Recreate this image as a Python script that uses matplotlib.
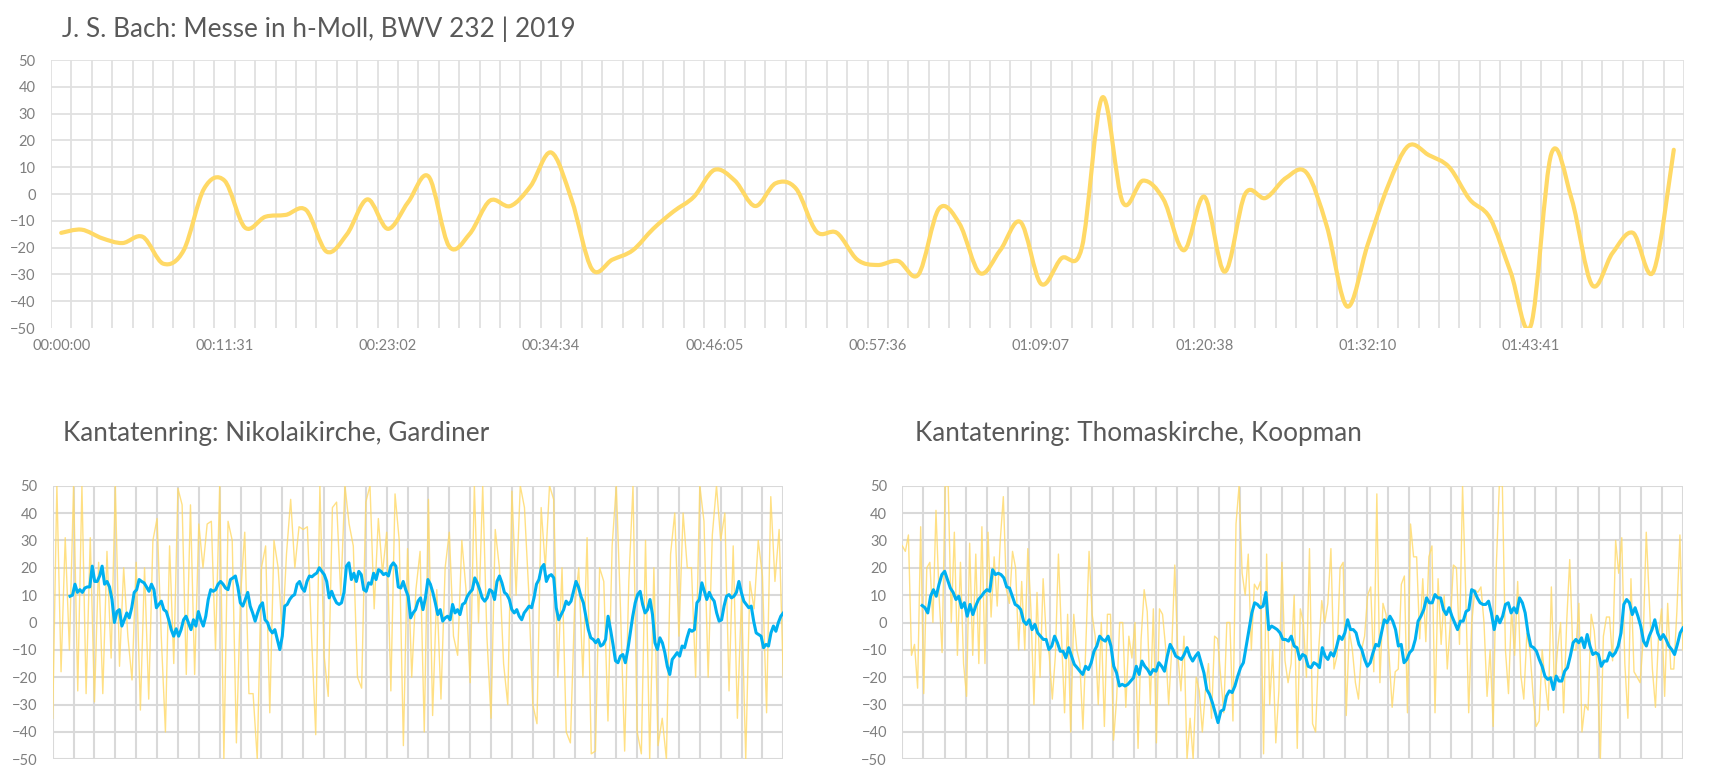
import numpy as np
import matplotlib
matplotlib.use('Agg')
import matplotlib.pyplot as plt
from matplotlib.path import Path
from matplotlib.patches import PathPatch

plt.rcParams['font.family'] = ['Lato', 'DejaVu Sans']

# ---------------- data ----------------
title_main = "J. S. Bach: Messe in h-Moll, BWV 232 | 2019"
title_left = "Kantatenring: Nikolaikirche, Gardiner"
title_right = "Kantatenring: Thomaskirche, Koopman"

mass_values = [-14.5, -13.3, -16.5, -18.3, -16, -26, -21, 2, 5, -12.5,
               -8.5, -7.8, -6, -21.5, -15, -2, -13, -3, 6.5, -19.5,
               -15, -2.5, -4.5, 3, 15.5, -2, -28, -24.5, -21, -13,
               -6.5, -1, 9, 5, -4.5, 4, 2, -14, -14.5, -24.5,
               -26.5, -25, -30, -5.5, -11, -29.5, -21, -10.5, -33.5, -24,
               -20, 36, -3, 5, -2, -21, -1, -29, 0, -1.5,
               6, 8, -12, -42, -19, 3, 18, 14.5, 10, -2,
               -9, -29, -49, 15, -2, -34, -22, -14.5, -29, 16.5]
mass_tick_every = 8
mass_tick_labels = ['00:00:00', '00:11:31', '00:23:02', '00:34:34', '00:46:05',
                    '00:57:36', '01:09:07', '01:20:38', '01:32:10', '01:43:41']

y_ticks = [-50, -40, -30, -20, -10, 0, 10, 20, 30, 40, 50]

nik_grid_cells = 35
nik_ma_start = 0.83
nik_raw = [-35, 50, -18, 31, -10, 50, -25, 50, -26, 31, -29, 22, -26, 26, -13, 50, -16, 20, -5, -21,
           22, -32, 20, -28, 30, 38, -5, -40, 28, -15, 49, 43, -19, 43, -19, 36, 20, 36, 37, -10,
           50, -50, 37, 30, -44, 10, 33, -26, -26, -50, 20, 28, -33, 30, 20, -5, 25, 45, 20, 35,
           34, 35, -5, -41, 50, -12, -27, 42, 44, 10, 50, 36, 28, -20, -24, 44, 50, 5, 38, 18,
           33, -25, 47, 30, -45, 27, -20, 12, 26, -40, 45, -34, 12, -28, 20, 33, -5, -12, 30, 12,
           -22, 50, 0, 50, -5, -35, 34, 20, -15, -30, 48, 10, 50, 42, 12, -30, -37, 42, 20, 50,
           45, -20, 20, -40, -44, 5, 20, -20, 31, -48, -47, 20, 15, -36, 28, 50, 5, -47, 15, 50,
           -40, -48, 30, -50, 20, -45, -35, -50, 25, 40, -5, 40, 20, 20, -20, 50, 37, -20, 32, 50,
           30, 40, -25, 28, -35, 10, -50, 15, 5, 30, 17, -33, 46, 15, 34, -20]
nik_avg = [9.6, 10, 14, 11, 12, 11, 12.6, 13, 13, 20.6, 15, 15, 17, 20.6, 14, 15, 13, 8.4, 0, 4,
           4.7, -1.3, 1, 3.5, 1.7, 5.4, 11, 12, 15.7, 15, 14.5, 13, 11.4, 14, 12, 5.4, 6.6, 7.8, 4.7, 4,
           1, -2.6, -5, -2.3, -5, -2.6, 1, 2.3, -0.1, -2.6, 1, -1.3, 4, 1, -1.3, 2.3, 8.4, 12, 11.4, 12,
           14, 15, 14, 12.6, 12, 15.7, 16.3, 17, 13, 7.2, 6, 8.4, 11, 6, 3.5, 0.5, 3.5, 6, 7.2, 1,
           0, -2.6, -3.8, -2.6, -6.2, -9.9, -5, 6, 6.6, 8.4, 9.6, 10.2, 14, 15, 12.6, 11.4, 15, 17, 16.7, 17.5,
           18.1, 20, 18.7, 17.5, 15, 9, 11.4, 9, 7.2, 6.6, 7.2, 11, 20.6, 21.8, 15.7, 18, 15, 18.7, 17.5, 12,
           11.4, 14.5, 14, 18, 15.7, 19.3, 18.7, 17.5, 18, 17, 20.6, 21.8, 20.6, 13, 12.6, 15, 12, 9.6, 1.7, 3.5,
           4.7, 7.8, 9, 4.7, 9, 15.7, 14, 11, 7.2, 2.9, 4.7, 0.5, 1.7, 2.3, 1, 6.6, 3.5, 4.7, 2.9, 6.6,
           7.2, 9.6, 11, 12, 16.3, 14.5, 12, 9, 7.8, 9, 12, 11.4, 8.4, 15, 17, 14.5, 11, 10.2, 8.4, 4.7,
           3.5, 4.7, 2.3, 1, 3.5, 4.7, 6, 5.4, 9, 14, 15.7, 20, 21.2, 15, 17, 17.5, 16.3, 5.4, 1, 2.9,
           4.7, 7.8, 6.6, 7.8, 11.4, 15, 13, 9.6, 7.2, 2.3, -2.6, -5.6, -6.2, -7.4, -6.2, -8.6, -8, -6.2, 2.3, -2.6,
           -8, -14, -14.7, -12.3, -11.7, -14.7, -9.9, -3.8, 2.3, 7.2, 10.2, 11.4, 6.6, 3.5, 4.7, 8.4, 2.9, -7.4, -9.9, -5.6,
           -7.4, -11, -16, -19, -13.5, -12.3, -11, -12.3, -8.6, -9.2, -5.6, -2.6, -3.2, -2.6, 7.2, 8.4, 14.5, 11.4, 8.4, 11,
           9, 7.8, 3.5, 0.5, 1, 6, 9.6, 10.2, 9, 9.6, 11, 15, 11, 7.8, 6.6, 5.4, 6, 0.5, -3.8, -4.4,
           -5, -9.2, -8, -8.6, -3.8, -1.3, -3.2, 0, 2.3, 3.5]

tho_grid_cells = 37
tho_ma_start = 0.94
tho_raw = [28, 26, 32, -12, -8, -24, 35, -26, 20, 22, 0, 41, 10, -11, 50, 50, 0, 33, -12, 22,
           -15, -27, 29, -12, 25, -15, 35, -15, 33, 2, 24, 6, 30, 46, 12, 7, 26, 20, -10, 15,
           -10, 27, 5, -30, 11, -20, 16, -5, -12, -28, -12, 25, -5, -33, 3, -40, 3, -10, -15, -39,
           -6, 26, 3, -5, -30, 0, -38, 3, 3, -43, -28, 0, 0, -31, -5, -13, 0, -46, -6, 12,
           4, -30, 5, -44, 5, 3, -9, -30, -10, 21, -12, -25, -5, -50, -35, -50, -20, -25, -40, -25,
           -15, -35, -5, -6, -20, -33, 0, 0, -36, 36, 50, 18, 10, 25, -10, 14, 12, 15, -48, 25,
           -30, -10, -44, -25, 22, -14, -22, -15, 10, -46, 5, 0, -20, 27, -37, -40, -10, 8, 0, 7,
           27, -17, -12, 20, 22, -34, -3, -10, -22, -28, -10, -5, 10, 13, -18, 47, -22, 7, 3, -12,
           -31, -18, -17, 14, 17, -33, 36, 24, 24, -6, 16, -7, 24, 28, -33, 16, -8, 10, -17, 0,
           21, 20, -8, 50, 12, -33, 0, 12, 11, 13, 0, -27, -10, -38, 20, 50, 50, -10, -26, 5,
           -12, 15, -19, -28, -4, -10, -26, -38, -36, -10, -22, -32, 13, -24, -10, 0, -33, 0, 23, -10,
           -10, 7, -40, -30, -32, 3, -3, -17, -50, -5, 2, 2, -14, 30, 18, 31, -15, -35, 16, -18,
           -20, -22, -6, 33, 8, -17, -31, -5, 5, -27, 7, -17, -17, 4, 32, -10]
tho_avg = [6.2, 5.4, 3.5, 9.6, 12, 9.6, 14, 17.5, 18.7, 15.7, 12.6, 11, 8.4, 9.6, 5.4, 7.2, 2.3, 6.6, 2.9, 6,
           8.4, 9.6, 11, 12, 11.4, 19.3, 17.5, 18, 17.5, 16.3, 13, 12.6, 9.6, 6.6, 6, 4.7, 0.5, -0.7, 1, -2.6,
           -0.7, -3.8, -5, -6.2, -6.2, -9.9, -8.6, -5, -7.4, -10.5, -10.5, -12.9, -9.2, -12.3, -15.3, -16.5, -17.8, -19, -16, -17.2,
           -14.7, -10.5, -8.6, -5, -6.2, -6.8, -5, -8.6, -16, -18.4, -23.2, -22.6, -23.2, -22.6, -21.4, -20.2, -16, -19, -14.1, -16,
           -17.2, -19, -17.2, -17.8, -14.7, -16, -17.8, -12.3, -8, -9.9, -12.3, -12.9, -13.5, -11.7, -9.2, -12.3, -14.1, -12.3, -11, -14.7,
           -18.4, -24.5, -26.3, -29.3, -33, -36.6, -32.4, -31.8, -26.9, -25, -25.6, -23.2, -19.6, -16.5, -14.7, -8.6, -2.6, 3.5, 7.2, 6.6,
           5.4, 6, 11, -2.6, -1.3, -1.9, -2.6, -3.8, -6.2, -6.2, -6.8, -5, -8.6, -9.2, -13.5, -11.7, -12.3, -16, -16.5, -14.7,
           -15.3, -16.5, -9.2, -12.3, -13.5, -11, -12.3, -9.2, -5, -6.2, -3.8, 1, -2.6, -2.6, -3.8, -8, -9.9, -13.5, -16, -14.7,
           -11, -8, -8.6, -3.8, 1, -0.1, 2.3, 0.5, -2.6, -8.6, -8, -14.7, -13.5, -11, -9.9, -6.2, 0.5, 2.3, 4.7, 9,
           7.2, 7.2, 10.2, 9, 9, 4.7, 2.9, 5.4, 2.3, -0.1, -2.6, 0.5, 0.5, 4, 4.7, 12, 11.4, 9, 7.2, 6.6,
           6.6, 7.8, 3.5, -2.6, 2.3, -0.1, 2.3, 6.6, 7.2, 3.5, 5.4, 3.5, 9, 7.2, 3.5, -3.8, -8.6, -9.2, -10.5, -13.5,
           -16, -19.6, -20.8, -20.2, -24.5, -19.6, -21.4, -21.4, -17.8, -16.5, -12.3, -7.4, -6.2, -7.4, -5.6, -9.2, -4.4, -8.6, -11.7, -11,
           -11.7, -16, -14.1, -14.1, -11, -12.3, -11, -8.6, -3.8, 6.6, 8.4, 7.2, 2.9, 5.4, 2.3, -1.3, -6.8, -8.6, -5, -2.6,
           1, -3.8, -6.2, -4.4, -6.2, -8.6, -9.9, -11.7, -8, -3.8, -2]

# ---------------- style ----------------
YELLOW = '#FFD966'
BLUE = '#00B0F0'
GRID_TOP = '#E0E0E0'
GRID_BOT = '#D9D9D9'
TICK_COLOR = '#7F7F7F'
TITLE_COLOR = '#595959'
TITLE_SIZE = 18.8
W, H = 1726, 783

fig = plt.figure(figsize=(W / 100, H / 100), dpi=100)


def px_axes(l, t, r, b):
    return fig.add_axes([l / W, 1 - b / H, (r - l) / W, (b - t) / H])


def smooth_path(x, y):
    n = len(x)
    verts = [(x[0], y[0])]
    codes = [Path.MOVETO]
    for i in range(n - 1):
        i0, i3 = max(i - 1, 0), min(i + 2, n - 1)
        c1 = (x[i] + (x[i + 1] - x[i0]) / 6, y[i] + (y[i + 1] - y[i0]) / 6)
        c2 = (x[i + 1] - (x[i3] - x[i]) / 6, y[i + 1] - (y[i3] - y[i]) / 6)
        verts += [c1, c2, (x[i + 1], y[i + 1])]
        codes += [Path.CURVE4] * 3
    return Path(verts, codes)


def base_style(ax):
    for s in ax.spines.values():
        s.set_visible(False)
    ax.set_ylim(-50, 50)
    ax.set_yticks(y_ticks)
    ax.tick_params(axis='both', length=0, labelsize=10.5, labelcolor=TICK_COLOR)
    ax.tick_params(axis='y', pad=11)
    ax.set_facecolor('none')


# ---- top chart ----
ax = px_axes(51, 60, 1684, 328)
base_style(ax)
n = len(mass_values)
xs = np.arange(n)
ax.set_xlim(-0.5, n - 0.5)
for k in range(n + 1):
    ax.axvline(k - 0.5, color=GRID_TOP, lw=1.3, zorder=1)
for v in y_ticks[1:]:
    ax.axhline(v, color=GRID_TOP, lw=1.3, zorder=1)
ax.add_patch(PathPatch(smooth_path(xs, np.array(mass_values, float)), facecolor='none',
                       edgecolor=YELLOW, lw=3.0, zorder=3, capstyle='round', joinstyle='round'))
ax.set_xticks(xs[::mass_tick_every][:len(mass_tick_labels)])
ax.set_xticklabels(mass_tick_labels)
ax.tick_params(axis='x', pad=8)

fig.text(62 / W, 1 - 36.7 / H, title_main, fontsize=TITLE_SIZE, fontweight='normal',
         color=TITLE_COLOR, ha='left', va='baseline')


# ---- bottom charts ----
def bottom_chart(box, cells, raw, avg, ma_start, title, title_x):
    ax = px_axes(*box)
    base_style(ax)
    ax.set_xlim(0, cells)
    ax.set_xticks([])
    for k in range(cells + 1):
        ax.axvline(k, color=GRID_BOT, lw=1.5, zorder=1)
    for v in y_ticks:
        ax.axhline(v, color=GRID_BOT, lw=1.5, zorder=1)
    xr = np.linspace(0, cells, len(raw))
    ax.plot(xr, raw, color=YELLOW, lw=1.0, alpha=0.8, zorder=2)
    xa = np.linspace(ma_start, cells, len(avg))
    ax.plot(xa, avg, color=BLUE, lw=2.2, zorder=3, solid_joinstyle='round')
    fig.text(title_x / W, 1 - 441 / H, title, fontsize=TITLE_SIZE, fontweight='normal',
             color=TITLE_COLOR, ha='left', va='baseline')


bottom_chart((52.7, 485.7, 783.3, 759.3), nik_grid_cells, nik_raw, nik_avg, nik_ma_start, title_left, 63)
bottom_chart((902.3, 485.7, 1683, 759.3), tho_grid_cells, tho_raw, tho_avg, tho_ma_start, title_right, 915)

fig.savefig('out.png', dpi=100, facecolor='white')
